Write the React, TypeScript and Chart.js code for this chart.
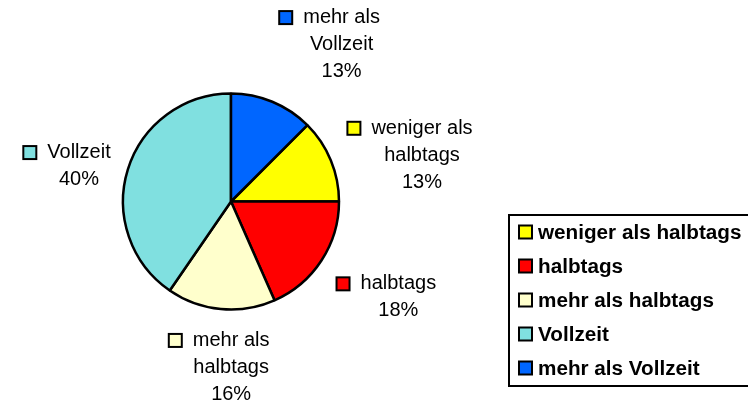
import { useEffect, useRef } from "react";
import { Chart, registerables } from "chart.js";

Chart.register(...registerables);

const categories = [
  "weniger als halbtags",
  "halbtags",
  "mehr als halbtags",
  "Vollzeit",
  "mehr als Vollzeit",
];
const shares = [12.5, 18.4, 16.2, 40.4, 12.5];
const colors = ["#FFFF00", "#FF0000", "#FFFFCC", "#80E0E0", "#0066FF"];

const FONT = '"Liberation Sans", Arial, sans-serif';

function wrap(label: string): string[] {
  const w = label.split(" ");
  return w.length >= 3 ? [w.slice(0, -1).join(" "), w[w.length - 1]] : [label];
}

const labelPlugin = {
  id: "outsideLabels",
  afterDatasetsDraw(chart: any) {
    const ctx = chart.ctx as CanvasRenderingContext2D;
    const meta = chart.getDatasetMeta(0);
    const ds = chart.data.datasets[0];
    const data = ds.data as number[];
    const total = data.reduce((a, b) => a + b, 0);
    ctx.save();
    ctx.font = `20px ${FONT}`;
    ctx.textBaseline = "middle";
    ctx.textAlign = "center";
    const lineH = 27,
      key = 13,
      gap = 11,
      off = 18;
    meta.data.forEach((arc: any, i: number) => {
      const { x, y, startAngle, endAngle, outerRadius } = arc.getProps(
        ["x", "y", "startAngle", "endAngle", "outerRadius"],
        true
      );
      const mid = (startAngle + endAngle) / 2;
      const c = Math.cos(mid),
        s = Math.sin(mid);
      const px = x + (outerRadius + off) * c;
      const py = y + (outerRadius + off) * s;
      const lines = [
        ...wrap(chart.data.labels[i]),
        Math.round((data[i] / total) * 100) + "%",
      ];
      const widths = lines.map((l) => ctx.measureText(l).width);
      const leftExt = Math.max(widths[0] / 2 + gap + key, ...widths.map((w) => w / 2));
      const rightExt = Math.max(...widths.map((w) => w / 2));
      const bw = leftExt + rightExt;
      const bh = lines.length * lineH;
      const sx = Math.abs(c) < 0.25 ? 0 : Math.sign(c);
      const sy = Math.abs(s) < 0.45 ? 0 : Math.sign(s);
      const bcx = px + (sx * bw) / 2;
      const bcy = py + (sy * bh) / 2 + (sy === 0 ? 2 : 0);
      const left = bcx - bw / 2;
      const top = bcy - bh / 2;
      const tc = left + leftExt;
      ctx.fillStyle = "#000";
      lines.forEach((l, j) => {
        ctx.fillText(l, tc, top + lineH * (j + 0.5));
      });
      const kx = tc - widths[0] / 2 - gap - key;
      const ky = top + lineH / 2 - key / 2;
      ctx.fillStyle = ds.backgroundColor[i];
      ctx.fillRect(kx, ky, key, key);
      ctx.lineWidth = 2;
      ctx.strokeStyle = "#000";
      ctx.strokeRect(kx, ky, key, key);
    });
    ctx.restore();
  },
};

const legendPlugin = {
  id: "boxLegend",
  afterDraw(chart: any) {
    const ctx = chart.ctx as CanvasRenderingContext2D;
    const ds = chart.data.datasets[0];
    const bx = 509,
      by = 215,
      bw = 245,
      bh = 171,
      rowH = 34,
      key = 13;
    ctx.save();
    ctx.fillStyle = "#fff";
    ctx.fillRect(bx, by, bw, bh);
    ctx.lineWidth = 2;
    ctx.strokeStyle = "#000";
    ctx.strokeRect(bx, by, bw, bh);
    ctx.font = `bold 20.7px ${FONT}`;
    ctx.textBaseline = "middle";
    ctx.textAlign = "left";
    (chart.data.labels as string[]).forEach((lab, i) => {
      const cy = by + rowH / 2 + i * rowH;
      const kx = bx + 10;
      ctx.fillStyle = ds.backgroundColor[i];
      ctx.fillRect(kx, cy - key / 2, key, key);
      ctx.lineWidth = 2;
      ctx.strokeStyle = "#000";
      ctx.strokeRect(kx, cy - key / 2, key, key);
      ctx.fillStyle = "#000";
      ctx.fillText(lab, kx + key + 6, cy + 1);
    });
    ctx.restore();
  },
};

export default function App() {
  const ref = useRef<HTMLCanvasElement | null>(null);
  useEffect(() => {
    if (!ref.current) return;
    const total = shares.reduce((a, b) => a + b, 0);
    const chart = new Chart(ref.current, {
      type: "pie",
      data: {
        labels: categories,
        datasets: [
          {
            data: shares,
            backgroundColor: colors,
            borderColor: "#000",
            borderWidth: 2.5,
            radius: 108,
          } as any,
        ],
      },
      options: {
        responsive: false,
        animation: false,
        devicePixelRatio: 1,
        rotation: (shares[shares.length - 1] / total) * 360,
        layout: { padding: { left: 0, right: 286, top: 0, bottom: 0 } },
        plugins: {
          legend: { display: false },
          tooltip: { enabled: false },
        },
        events: [],
      } as any,
      plugins: [labelPlugin, legendPlugin],
    });
    return () => chart.destroy();
  }, []);
  return (
    <div style={{ position: "fixed", left: 0, top: 0, width: 748, height: 403, background: "#fff" }}>
      <canvas ref={ref} width={748} height={403} />
    </div>
  );
}
